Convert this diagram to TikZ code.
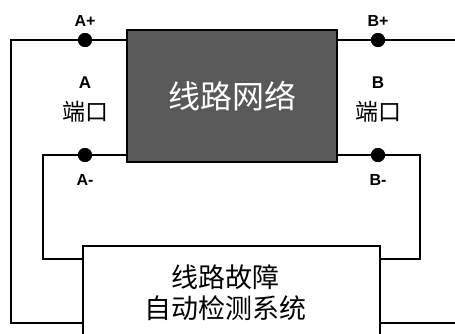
\documentclass[tikz,border=0pt]{standalone}
\usepackage{fontspec}
\setmainfont{Liberation Sans}
\newfontfamily\cjk{Noto Sans CJK SC}
\definecolor{boxgray}{HTML}{595959}
\begin{document}
\begin{tikzpicture}[x=1pt,y=-1pt,
  wire/.style={line width=2.6pt, line join=miter},
  dot/.style={circle, fill=black, inner sep=0pt, minimum size=14pt},
  pin/.style={font=\fontsize{16}{16}\selectfont\bfseries, inner sep=0pt},
  portname/.style={font=\fontsize{17}{17}\selectfont\bfseries, inner sep=0pt},
  portcn/.style={font=\cjk\fontsize{23}{23}\selectfont, inner sep=0pt},
]
\useasboundingbox (0,0) rectangle (455,333);
\clip (0,0) rectangle (455,333);
% network box
\node[draw=black, line width=1.2pt, fill=boxgray, minimum width=210pt, minimum height=132pt, inner sep=0pt,
      text=white, font=\cjk\fontsize{32}{32}\selectfont] (net) at (232,96) {线路网络};
% detection box
\node[draw=black, line width=2.6pt, fill=white, minimum width=297pt, minimum height=120pt, inner sep=0pt] (det) at (231.5,306) {};
\node[align=center, font=\cjk\fontsize{27}{31}\selectfont, inner sep=0pt] (dettext) at (225,293) {线路故障\\自动检测系统};
% terminals
\node[dot] (ap) at (85,40) {};
\node[dot] (am) at (85,155) {};
\node[dot] (bp) at (378,40) {};
\node[dot] (bm) at (378,155) {};
% corner coordinates
\coordinate (lt) at (11,40);
\coordinate (lb) at (11,323);
\coordinate (ml) at (43,155);
\coordinate (mlb) at (43,259);
\coordinate (rt) at (470,40);
\coordinate (mr) at (420,155);
\coordinate (mrb) at (420,259);
\coordinate (rb) at (470,323);
% wires
\draw[wire] (net.west |- ap) -- (ap.center) -- (lt) -- (lb) -- (det.west |- lb);
\draw[wire] (net.west |- am) -- (am.center) -- (ml) -- (mlb) -- (det.west |- mlb);
\draw[wire] (net.east |- bp) -- (bp.center) -- (rt);
\draw[wire] (net.east |- bm) -- (bm.center) -- (mr) -- (mrb) -- (det.east |- mrb);
\draw[wire] (det.east |- rb) -- (rb);
% redraw dots on top
\node[dot] at (ap) {};
\node[dot] at (am) {};
\node[dot] at (bp) {};
\node[dot] at (bm) {};
% labels
\node[pin] (apl) at (85,21) {A+};
\node[pin] (aml) at (85,180) {A-};
\node[pin] (bpl) at (378,21) {B+};
\node[pin] (bml) at (378,180) {B-};
\node[portname] (an) at (85,83) {A};
\node[portcn] (ac) at (85,112) {端口};
\node[portname] (bn) at (378,83) {B};
\node[portcn] (bc) at (378,112) {端口};
\end{tikzpicture}
\end{document}
